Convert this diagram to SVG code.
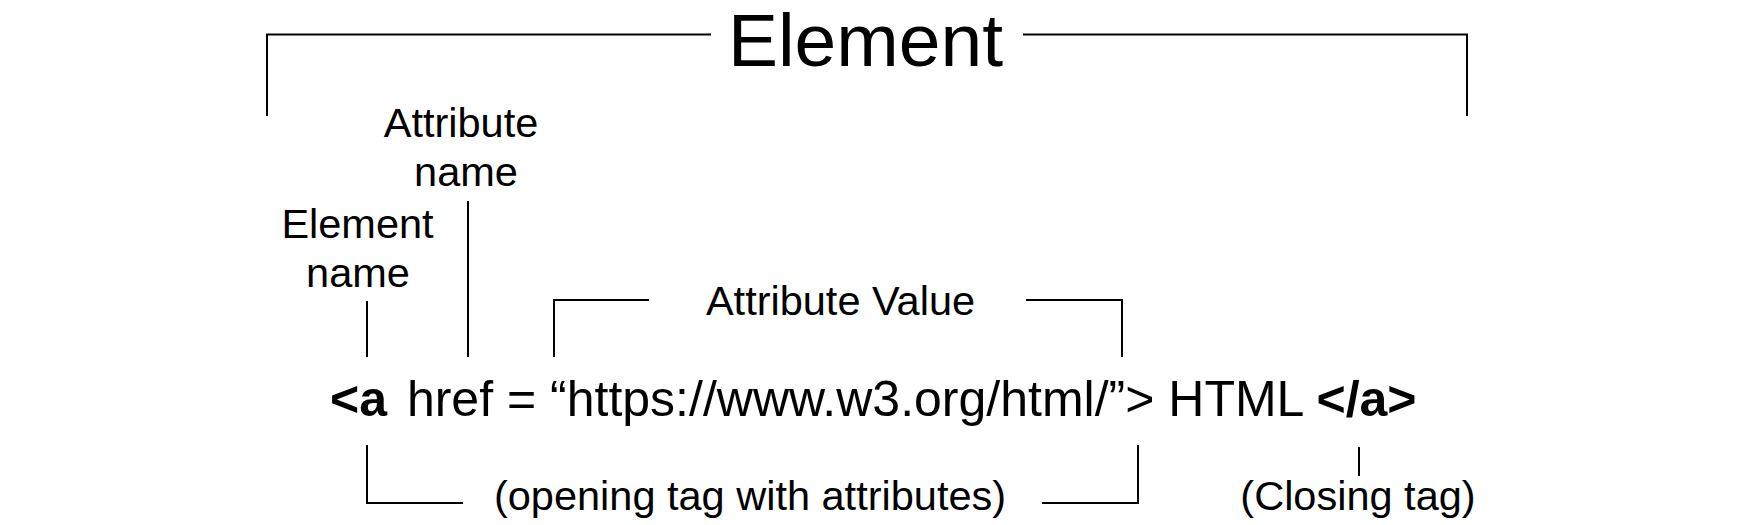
<svg xmlns="http://www.w3.org/2000/svg" width="1742" height="525" viewBox="0 0 1742 525">
<style>
  text { font-family: "Liberation Sans", Arial, sans-serif; fill: #000; }
  .lbl { font-size: 41.5px; text-anchor: middle; }
  .title { font-size: 75px; text-anchor: middle; }
  .code { font-size: 50px; }
  .b { font-weight: bold; }
  .ln { fill: none; stroke: #000; stroke-width: 2; }
</style>
<rect width="1742" height="525" fill="#fff"/>
<g id="connectors">
  <polyline class="ln" points="267,116 267,34.5 711,34.5"/>
  <polyline class="ln" points="1023,34.5 1467,34.5 1467,116"/>
  <line class="ln" x1="468" y1="201" x2="468" y2="357"/>
  <line class="ln" x1="367" y1="301" x2="367" y2="357"/>
  <polyline class="ln" points="554,357 554,300 649,300"/>
  <polyline class="ln" points="1026,300 1122,300 1122,357"/>
  <polyline class="ln" points="367,445 367,503 463,503"/>
  <polyline class="ln" points="1042,503 1138,503 1138,445"/>
  <line class="ln" x1="1359" y1="447" x2="1359" y2="476"/>
</g>
<g id="element-title">
  <text class="title" x="865.5" y="66">Element</text>
</g>
<g id="attribute-name">
  <text class="lbl" x="461" y="137">Attribute</text>
  <text class="lbl" x="466" y="186">name</text>
</g>
<g id="element-name">
  <text class="lbl" x="357.5" y="238">Element</text>
  <text class="lbl" x="358" y="287">name</text>
</g>
<g id="attribute-value">
  <text class="lbl" x="840.5" y="315">Attribute Value</text>
</g>
<g id="code">
  <text class="code" x="330" y="416"><tspan class="b">&lt;a</tspan><tspan dx="6"> href = “https://www.w3.org/html/”&gt; HTML </tspan><tspan class="b">&lt;/a&gt;</tspan></text>
</g>
<g id="opening-tag">
  <text class="lbl" x="750" y="510">(opening tag with attributes)</text>
</g>
<g id="closing-tag">
  <text class="lbl" x="1358" y="510">(Closing tag)</text>
</g>
</svg>
